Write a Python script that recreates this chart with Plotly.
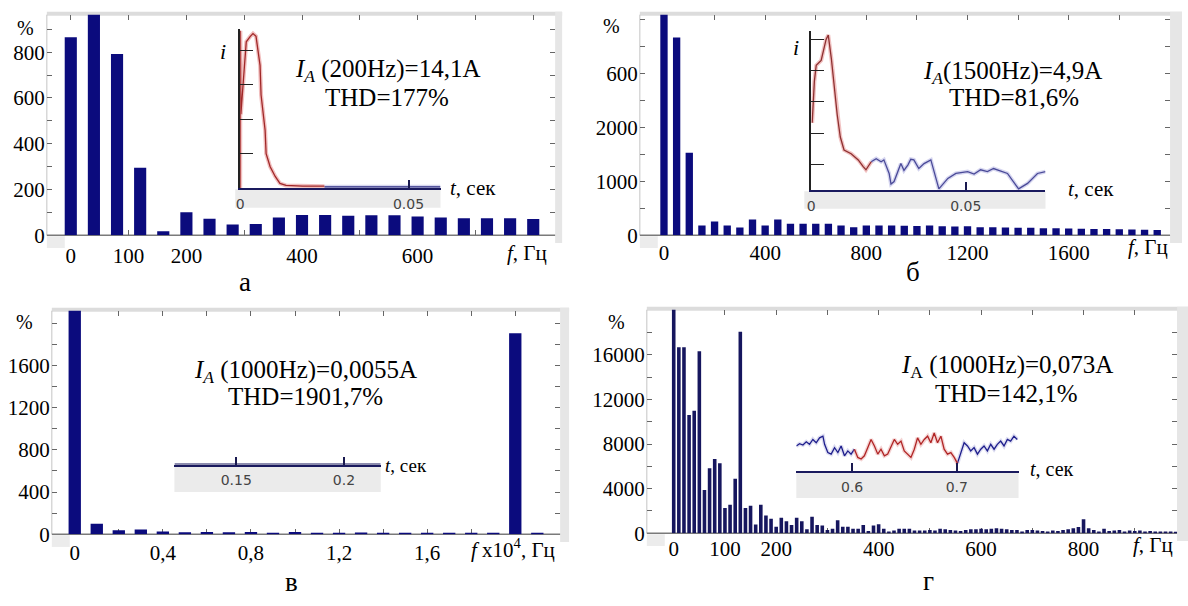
import plotly.graph_objects as go

W, H = 1188, 606

# ---------------- data ----------------
# panel а : spectrum, f in Hz, amplitude in %
freq_a = list(range(0, 801, 40))
amp_a = [865, 1000, 792, 295, 17, 100, 72, 47, 49, 77, 88, 88, 85, 87, 87, 82, 77, 74, 74, 74, 71]

# panel б
freq_b = list(range(0, 1951, 50))
amp_b = [4500, 3670, 1530, 180, 255, 180, 145, 290, 180, 290, 215, 215, 215, 215, 180, 150, 180, 180, 180,
         175, 170, 180, 165, 160, 165, 150, 150, 145, 140, 140, 130, 130, 125, 120, 115, 115, 110, 105, 100, 95]

# panel в  (f x 10^4 Hz)
freq_c = [0.0, 0.1, 0.2, 0.3, 0.4, 0.5, 0.6, 0.7, 0.8, 0.9, 1.0, 1.1, 1.2, 1.3, 1.4, 1.5, 1.6, 1.7, 1.8, 1.9, 2.0, 2.1]
amp_c = [2500, 100, 37, 45, 25, 18, 20, 18, 20, 12, 20, 14, 14, 15, 13, 14, 12, 14, 10, 8, 1907, 10]

# panel г
freq_d = list(range(0, 981, 10))
amp_d = [21000, 16670, 16670, 10600, 10990, 16320, 3870, 5830, 6650, 6270,
         2260, 2550, 4890, 18080, 2260, 2460, 790, 2550, 1580, 1290,
         590, 1380, 1080, 730, 1380, 1080, 350, 1470, 730, 700,
         290, 410, 1170, 590, 590, 410, 410, 730, 200, 700,
         800, 400, 150, 250, 400, 400, 400, 250, 250, 250,
         300, 250, 400, 350, 300, 250, 200, 300, 350, 350,
         400, 350, 400, 450, 400, 350, 300, 300, 150, 300,
         300, 250, 200, 150, 250, 200, 300, 350, 450, 550,
         1250, 450, 300, 150, 400, 200, 250, 300, 150, 250,
         200, 250, 150, 200, 150, 150, 150, 150, 120]

# inset а : current waveform (t in s)
t_a_red = [0, 0.00005, 0.0002, 0.0010, 0.0018, 0.0030, 0.0038, 0.0047, 0.0053, 0.0059, 0.0062,
           0.0074, 0.0077, 0.0089, 0.0104, 0.0118, 0.0136, 0.0186, 0.0250]
i_a_red = [0, 22.8, 10.7, 16.0, 21.2, 22.0, 22.4, 22.0, 20.2, 17.8, 13.5,
           8.4, 5.0, 3.1, 1.7, 0.7, 0.4, 0.3, 0.3]
t_a_blue = [0.0250, 0.0595]
i_a_blue = [0.2, 0.2]

# inset б
t_b_red = [0.0003, 0.0010, 0.0016, 0.0032, 0.0048, 0.0055, 0.0065, 0.0074, 0.0084, 0.0094, 0.0106,
           0.0129, 0.0152, 0.0168, 0.0177, 0.0194]
i_b_red = [10.9, 17.6, 20.2, 21.0, 24.4, 25.1, 21.3, 17.0, 12.2, 8.6, 6.5,
           5.9, 4.9, 3.8, 3.3, 4.6]
t_b_blue = [0.0194, 0.0210, 0.0226, 0.0235, 0.0252, 0.0258, 0.0268, 0.0290, 0.0300, 0.0313, 0.0322,
            0.0332, 0.0348, 0.0365, 0.0387, 0.0413, 0.0442, 0.0468, 0.0506, 0.0527, 0.0548, 0.0570,
            0.0590, 0.0612, 0.0635, 0.0671, 0.0700, 0.0732, 0.0758]
i_b_blue = [4.6, 5.1, 4.6, 4.9, 2.7, 1.0, 1.4, 4.3, 3.2, 4.1, 5.0,
            4.9, 3.5, 4.3, 4.9, 0.2, 1.9, 2.7, 3.0, 2.6, 3.3, 3.0,
            3.5, 3.1, 2.7, 0.2, 1.1, 2.7, 3.0]

# inset в : flat signal
t_c = [0.1213, 0.2171]
i_c = [0, 0]

# inset г
t_d = [0.5467, 0.5498, 0.5530, 0.5562, 0.5593, 0.5625, 0.5657, 0.5689, 0.5721, 0.5737, 0.5768,
       0.5800, 0.5832, 0.5864, 0.5895, 0.5927, 0.5959, 0.5990, 0.6022, 0.6054, 0.6086, 0.6117,
       0.6149, 0.6181, 0.6213, 0.6245, 0.6276, 0.6308, 0.6340, 0.6371, 0.6403, 0.6435, 0.6467,
       0.6498, 0.6530, 0.6562, 0.6594, 0.6625, 0.6657, 0.6689, 0.6721, 0.6752, 0.6784, 0.6816,
       0.6848, 0.6879, 0.6911, 0.6943, 0.6975, 0.7006, 0.7038, 0.7070, 0.7102, 0.7133, 0.7165,
       0.7197, 0.7229, 0.7260, 0.7292, 0.7324, 0.7356, 0.7387, 0.7419, 0.7451, 0.7483, 0.7514,
       0.7546, 0.7578]
i_d = [2.60, 2.83, 2.70, 3.03, 2.77, 3.27, 2.93, 3.43, 3.60, 2.77, 1.93,
       1.77, 2.43, 1.93, 2.60, 1.60, 2.10, 1.77, 2.27, 1.43, 1.27, 1.60,
       2.43, 3.27, 2.60, 1.77, 2.27, 1.60, 1.77, 2.60, 3.27, 2.77, 3.10,
       2.10, 1.77, 1.43, 2.27, 3.43, 2.77, 3.27, 3.60, 2.93, 3.93, 2.93,
       3.60, 2.27, 1.77, 1.93, 1.43, 0.83, 1.77, 2.93, 2.60, 2.10, 2.43,
       1.77, 2.27, 2.60, 2.10, 2.77, 2.27, 2.77, 3.10, 2.60, 3.27, 3.10,
       3.60, 3.27]
red_d_start, red_d_end = 0.6022, 0.7006

# ---------------- helpers ----------------
SERIF = "Liberation Serif, Times New Roman, DejaVu Serif, serif"
SANS = "DejaVu Sans, sans-serif"
BAR = "#0b0b7d"
BAR_D = "#16165e"


def px_x(p):
    return p / W


def px_y(p):
    return 1 - p / H


def dom_x(a, b):
    return [a / W, b / W]


def dom_y(top, bottom):
    return [1 - bottom / H, 1 - top / H]


fig = go.Figure()
shapes = []
annotations = []


def rect(x0, y0, x1, y1, color):
    shapes.append(dict(type="rect", xref="paper", yref="paper", x0=px_x(x0), x1=px_x(x1),
                       y0=px_y(y1), y1=px_y(y0), fillcolor=color, line=dict(width=0), layer="below"))


def hline(x0, x1, y, color, width):
    shapes.append(dict(type="line", xref="paper", yref="paper", x0=px_x(x0), x1=px_x(x1),
                       y0=px_y(y), y1=px_y(y), line=dict(color=color, width=width), layer="below"))


def vline(x, y0, y1, color, width):
    shapes.append(dict(type="line", xref="paper", yref="paper", x0=px_x(x), x1=px_x(x),
                       y0=px_y(y0), y1=px_y(y1), line=dict(color=color, width=width), layer="below"))


def text(s, x, y, size, family=SERIF, color="black", xanchor="center"):
    annotations.append(dict(text=s, x=px_x(x), y=px_y(y), xref="paper", yref="paper", showarrow=False,
                            xanchor=xanchor, yanchor="middle", font=dict(family=family, size=size, color=color)))


def main_axes(n, xd, yd, xr, yr, xtv, xtt, xminor, ytv, ytt, yminor, standoff):
    sx = "" if n == 1 else str(n)
    common = dict(tickmode="array", ticks="inside", ticklen=5, tickcolor="#666", mirror="ticks",
                  showline=False, showgrid=False, zeroline=False, layer="below traces",
                  tickfont=dict(family=SERIF, size=21, color="black"), fixedrange=True)
    fig.layout["xaxis" + sx] = dict(domain=xd, range=xr, anchor="y" + sx, tickvals=xtv, ticktext=xtt,
                                    ticklabelstandoff=standoff,
                                    minor=dict(tickmode="array", tickvals=xminor, ticks="inside", ticklen=5,
                                               tickcolor="#666", showgrid=False), **common)
    fig.layout["yaxis" + sx] = dict(domain=yd, range=yr, anchor="x" + sx, tickvals=ytv, ticktext=ytt,
                                    ticklabelstandoff=1,
                                    minor=dict(tickmode="array", tickvals=yminor, ticks="inside", ticklen=5,
                                               tickcolor="#666", showgrid=False), **common)


def inset_axes(n, xd, yd, xr, yr, xtv, xtt, show_y, ytv=None):
    sx = str(n)
    fig.layout["xaxis" + sx] = dict(domain=xd, range=xr, anchor="y" + sx, tickmode="array",
                                    tickvals=xtv, ticktext=xtt, ticks="inside", ticklen=8, tickwidth=1.5,
                                    tickcolor="#1a1a50", showline=True, linecolor="#1a1a5e", linewidth=2,
                                    showgrid=False, zeroline=False, ticklabelstandoff=2,
                                    tickfont=dict(family=SANS, size=14, color="#444"), fixedrange=True)
    fig.layout["yaxis" + sx] = dict(domain=yd, range=yr, anchor="x" + sx, visible=show_y,
                                    tickmode="array", tickvals=ytv if ytv else [],
                                    showline=True, linecolor="#222", linewidth=1.5, ticks="inside",
                                    ticklen=13, tickcolor="#222", showticklabels=False, showgrid=False,
                                    zeroline=False, fixedrange=True)


def curve(n, t, v, color, halo, width=1.3):
    if halo:
        fig.add_trace(go.Scatter(x=t, y=v, mode="lines", line=dict(color=halo, width=4),
                                 xaxis="x" + str(n), yaxis="y" + str(n), hoverinfo="skip", showlegend=False))
    fig.add_trace(go.Scatter(x=t, y=v, mode="lines", line=dict(color=color, width=width),
                             xaxis="x" + str(n), yaxis="y" + str(n), showlegend=False))


# ---------------- panel а ----------------
fig.add_trace(go.Bar(x=freq_a, y=amp_a, width=21, marker=dict(color=BAR, line=dict(width=0)),
                     xaxis="x", yaxis="y", showlegend=False))
main_axes(1, dom_x(43, 553), dom_y(15, 240), [-41.4, 837.9], [0, 963.7],
          [0, 100, 200, 400, 600], ["0", "100", "200", "400", "600"], [300, 500, 700, 800],
          [0, 200, 400, 600, 800], ["0", "200", "400", "600", "800"], [100, 300, 500, 700, 900], 6)

# ---------------- panel б ----------------
fig.add_trace(go.Bar(x=freq_b, y=amp_b, width=29, marker=dict(color=BAR, line=dict(width=0)),
                     xaxis="x2", yaxis="y2", showlegend=False))
main_axes(2, dom_x(638, 1170), dom_y(15, 240), [-95.4, 2000.8], [0, 4091],
          [0, 400, 800, 1200, 1600], ["0", "400", "800", "1200", "1600"], [200, 600, 1000, 1400, 1800],
          [0, 1000, 2000, 3000], ["0", "1000", "2000", "600"], [500, 1500, 2500, 3500, 4000], 3)

# ---------------- panel в ----------------
fig.add_trace(go.Bar(x=freq_c, y=amp_c, width=0.056, marker=dict(color=BAR, line=dict(width=0)),
                     xaxis="x3", yaxis="y3", showlegend=False))
main_axes(3, dom_x(48, 558), dom_y(317, 545), [-0.104, 2.2036], [0, 2121],
          [0, 0.4, 0.8, 1.2, 1.6], ["0", "0,4", "0,8", "1,2", "1,6"], [0.2, 0.6, 1.0, 1.4, 1.8, 2.0],
          [0, 400, 800, 1200, 1600], ["0", "400", "800", "1200", "1600"], [200, 600, 1000, 1400, 1800, 2000], 4)

# ---------------- panel г ----------------
fig.add_trace(go.Bar(x=freq_d, y=amp_d, width=7, marker=dict(color=BAR_D, line=dict(width=0)),
                     xaxis="x4", yaxis="y4", showlegend=False))
main_axes(4, dom_x(645, 1177), dom_y(316, 544), [-52.5, 982.5], [0, 20044],
          [0, 100, 200, 400, 600, 800], ["0", "100", "200", "400", "600", "800"], [300, 500, 700, 900],
          [0, 4000, 8000, 12000, 16000], ["0", "4000", "8000", "12000", "16000"],
          [2000, 6000, 10000, 14000, 18000], 1)

# ---------------- insets ----------------
inset_axes(5, dom_x(237, 438), dom_y(30, 192), [0, 0.0595], [0, 23], [0, 0.05], ["0", "0.05"], True,
           [5, 10, 15, 20])
curve(5, t_a_blue, i_a_blue, "#2a2a80", "rgba(140,140,210,0.35)")
curve(5, t_a_red, i_a_red, "#a02828", "rgba(225,110,110,0.45)")

inset_axes(6, dom_x(810, 1045), dom_y(32, 194), [0, 0.0758], [0, 25.7], [0, 0.05], ["0", "0.05"], True,
           [4.2, 9.2, 14.3, 19.4, 24.4])
curve(6, t_b_blue, i_b_blue, "#4a4a98", "rgba(150,150,215,0.4)")
curve(6, t_b_red, i_b_red, "#8e3030", "rgba(225,120,120,0.45)")

inset_axes(7, dom_x(171, 378), dom_y(440, 474), [0.1213, 0.2171], [0, 1], [0.15, 0.2], ["0.15", "0.2"], False)
curve(7, t_c, i_c, "#1a1a5e", None, 2)

inset_axes(8, dom_x(795, 1018), dom_y(431, 481), [0.5467, 0.759], [0, 5], [0.6, 0.7], ["0.6", "0.7"], False)
t_d_red = [t for t in t_d if red_d_start <= t <= red_d_end]
i_d_red = [v for t, v in zip(t_d, i_d) if red_d_start <= t <= red_d_end]
t_d_b1 = [t for t in t_d if t <= red_d_start]
i_d_b1 = [v for t, v in zip(t_d, i_d) if t <= red_d_start]
t_d_b2 = [t for t in t_d if t >= red_d_end]
i_d_b2 = [v for t, v in zip(t_d, i_d) if t >= red_d_end]
curve(8, t_d_b1, i_d_b1, "#1e1e8c", "rgba(120,120,200,0.25)")
curve(8, t_d_b2, i_d_b2, "#1e1e8c", "rgba(120,120,200,0.25)")
curve(8, t_d_red, i_d_red, "#b02525", "rgba(220,110,110,0.3)")

# ---------------- frames / bands ----------------
for (l, r, top, bot, rr) in [(43, 553, 15, 240, 560), (638, 1170, 15, 240, 1182),
                            (48, 558, 317, 545, 567), (645, 1177, 316, 544, 1188)]:
    rect(l, top - 3, rr, top + 1, "#dcdcdc")
    rect(r, top - 3, rr, bot + 8, "#e6e6e6")
    rect(l, bot + 1, l + 18, bot + 13, "#ececec")
    vline(l, top, bot, "#c4c4c4", 1)
    hline(l, r, bot, "#7a7a7a", 1.5)

rect(232, 193, 438, 212, "#ebebeb")
rect(803, 195, 1045, 213, "#ebebeb")
rect(171, 475, 378, 502, "#ebebeb")
rect(795, 482, 1018, 508, "#ebebeb")

# ---------------- texts ----------------
text("%", 22, 29, 20)
text("%", 610, 27, 20)
text("%", 21, 328, 20)
text("%", 615, 328, 20)

text("<i>f</i>, Гц", 503, 258, 21, xanchor="left")
text("<i>f</i>, Гц", 1126, 252, 21, xanchor="left")
text("<i>f</i> x10<sup>4</sup>, Гц", 467, 560, 21, xanchor="left")
text("<i>f</i>, Гц", 1131, 556, 21, xanchor="left")

text("<i>I</i><sub><i>A</i></sub> (200Hz)=14,1A", 385, 72, 25)
text("THD=177%", 384, 99, 25)
text("<i>I</i><sub><i>A</i></sub>(1500Hz)=4,9A", 1012, 74, 25)
text("THD=81,6%", 1013, 99, 25)
text("<i>I</i><sub><i>A</i></sub> (1000Hz)=0,0055A", 303, 379, 25)
text("THD=1901,7%", 303, 404, 25)
text("<i>I</i><sub>A</sub> (1000Hz)=0,073A", 1006, 374, 25)
text("THD=142,1%", 1006, 401, 25)

text("<i>i</i>", 220, 53, 22)
text("<i>i</i>", 795, 48, 22)
text("<i>t</i>, сек", 446, 192, 21, xanchor="left")
text("<i>t</i>, сек", 1066, 193, 21, xanchor="left")
text("<i>t</i>, сек", 380, 475, 19, xanchor="left")
text("<i>t</i>, сек", 1027, 478, 20, xanchor="left")

text("а", 242, 288, 27)
text("б", 912, 278, 27)
text("в", 288, 594, 27)
text("г", 928, 593, 27)

fig.update_layout(width=W, height=H, autosize=False, margin=dict(l=0, r=0, t=0, b=0),
                  paper_bgcolor="white", plot_bgcolor="rgba(0,0,0,0)", showlegend=False,
                  shapes=shapes, annotations=annotations, barmode="overlay")

fig.write_html("out.html", config={"displayModeBar": False},
               post_script="document.body.style.margin='0px';document.body.style.padding='0px';")
